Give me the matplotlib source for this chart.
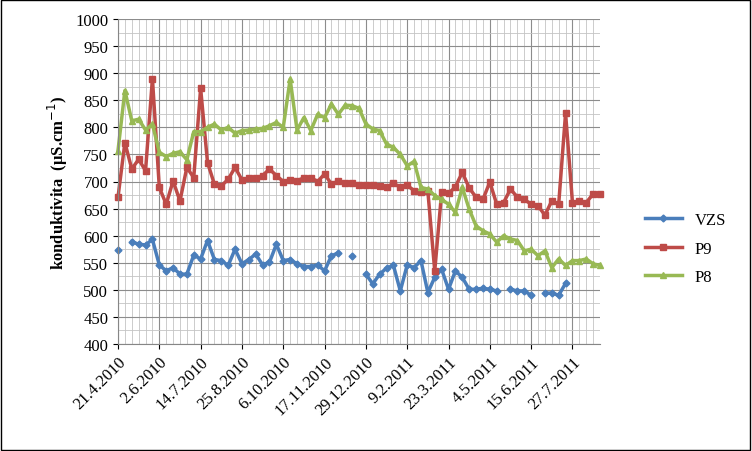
import numpy as np
import matplotlib
matplotlib.use("Agg")
import matplotlib.pyplot as plt
from matplotlib.ticker import MultipleLocator

nan = np.nan
tick_labels = ["21.4.2010", "2.6.2010", "14.7.2010", "25.8.2010", "6.10.2010", "17.11.2010",
               "29.12.2010", "9.2.2011", "23.3.2011", "4.5.2011", "15.6.2011", "27.7.2011"]

vzs = [574, nan, 589, 584, 583, 593, 546, 535, 541, 529, 529, 564, 557, 591, 556, 554, 545, 575,
       548, 556, 566, 546, 551, 584, 554, 556, 548, 543, 543, 546, 535, 563, 568, nan, 563, nan,
       529, 511, 529, 540, 545, 498, 546, 541, 554, 495, 523, 538, 501, 535, 523, 501, 501, 503,
       501, 498, nan, 501, 498, 498, 490, nan, 494, 494, 490, 512, nan, nan, nan, nan, nan]
p9 = [671, 772, 723, 741, 720, 890, 689, 658, 701, 664, 726, 707, 872, 735, 695, 692, 704, 726,
      703, 706, 706, 711, 723, 711, 700, 703, 701, 707, 707, 700, 714, 695, 701, 697, 697, 694,
      694, 694, 692, 689, 697, 689, 693, 683, 680, 682, 535, 680, 678, 690, 717, 688, 671, 667,
      699, 658, 661, 686, 671, 667, 658, 655, 638, 664, 658, 826, 661, 664, 661, 677, 677]
p8 = [757, 868, 812, 815, 795, 806, 754, 746, 752, 755, 740, 792, 792, 800, 806, 795, 800, 789,
      794, 795, 797, 798, 803, 809, 800, 889, 795, 818, 794, 824, 818, 843, 824, 841, 840, 835,
      806, 797, 794, 769, 763, 750, 729, 737, 689, 686, 674, 667, 658, 643, 689, 649, 618, 609,
      603, 588, 600, 594, 591, 572, 575, 563, 572, 541, 557, 545, 554, 554, 557, 548, 545]

x = np.arange(len(p9))
fig = plt.figure(figsize=(7.52, 4.52), dpi=100)
ax = fig.add_axes([118/752, 107/452, 482/752, 325/452])
ax.plot(x, vzs, color="#4a7ebb", marker="D", ms=3.5, lw=2.5, label="VZS", clip_on=False)
ax.plot(x, p9, color="#be4b48", marker="s", ms=4.5, lw=2.5, label="P9", clip_on=False)
ax.plot(x, p8, color="#98b954", marker="^", ms=4.5, lw=2.5, label="P8", clip_on=False)

ax.set_xlim(0, len(x) - 1)
ax.set_ylim(400, 1000)
ax.yaxis.set_major_locator(MultipleLocator(50))
ax.yaxis.set_minor_locator(MultipleLocator(25))
ax.set_xticks(np.arange(0, len(x), 6))
ax.set_xticks(np.arange(0, len(x), 1), minor=True)
ax.set_xticklabels(tick_labels, rotation=45, ha="right", rotation_mode="anchor",
                   fontfamily="Liberation Serif", fontsize=12)
for lab in ax.get_yticklabels():
    lab.set_fontfamily("Liberation Serif")
    lab.set_fontsize(12)
ax.grid(which="major", color="#8c8c8c", lw=0.8)
ax.grid(which="minor", color="#c4c4c4", lw=0.6)
ax.set_axisbelow(True)
ax.tick_params(which="minor", length=0)
for s in ["top", "right"]:
    ax.spines[s].set_visible(False)
ax.spines["left"].set_color("#868686")
ax.spines["bottom"].set_color("#868686")
ax.set_ylabel("konduktivita  (µS.cm$^{-1}$)", fontfamily="Liberation Serif", fontweight="bold",
              fontsize=12)
fig.legend(loc="upper left", bbox_to_anchor=(630/752, 1 - 198/452), frameon=False,
           prop={"family": "Liberation Serif", "size": 12}, labelspacing=0.75, handlelength=2.2)
fig.patches.append(plt.Rectangle((0.001, 0.002), 0.997, 0.995, transform=fig.transFigure,
                                 fill=False, ec="black", lw=1))
fig.savefig("out.png", dpi=100)
